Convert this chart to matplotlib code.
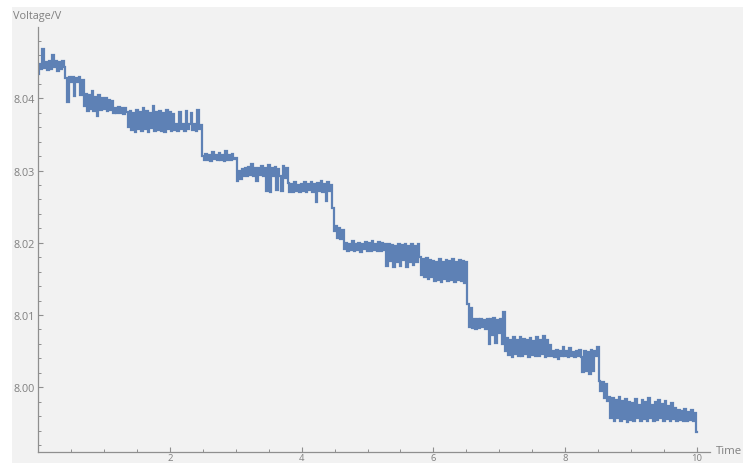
import numpy as np
import matplotlib
matplotlib.use("Agg")
import matplotlib.pyplot as plt
from matplotlib.patches import Rectangle
from matplotlib.ticker import MultipleLocator, FixedLocator, FormatStrFormatter

# Voltage readings, in millivolts above 8.000 V, sampled every 0.025 time units (t = 0 .. 10)
mv_t0 = [43.4, 44.8, 44.0, 46.8, 44.2, 45.0, 43.9, 45.2, 44.1, 46.0,
         44.3, 45.1, 43.8, 45.0, 44.0, 45.2, 44.3, 42.8, 39.5, 42.9,
         42.3, 42.9, 40.3, 42.8, 42.2, 42.9, 40.5, 42.5, 39.0, 40.6,
         38.3, 40.4, 38.5, 41.0, 38.2, 40.2, 37.6, 40.5, 38.4, 40.0]
mv_t1 = [38.5, 40.1, 38.3, 39.8, 38.4, 39.6, 38.0, 38.7, 37.9, 38.8,
         38.0, 38.6, 37.8, 38.7, 38.1, 36.0, 38.3, 35.6, 38.0, 35.4,
         38.4, 35.8, 38.1, 35.5, 38.6, 35.7, 38.2, 35.4, 38.0, 35.9,
         38.9, 35.5, 38.1, 35.6, 38.3, 35.5, 38.0, 35.4, 38.4, 35.7]
mv_t2 = [38.1, 35.5, 37.8, 35.6, 36.5, 35.5, 38.1, 35.7, 36.4, 35.5,
         38.2, 35.8, 36.5, 37.9, 35.6, 36.4, 35.5, 38.4, 35.8, 36.3,
         32.0, 31.4, 32.3, 31.5, 32.2, 31.3, 32.6, 31.6, 32.2, 31.4,
         32.4, 31.5, 32.1, 31.3, 32.7, 31.5, 32.2, 31.4, 32.3, 31.6]
mv_t3 = [31.8, 28.6, 30.0, 28.8, 30.2, 29.3, 30.4, 29.3, 30.5, 29.4,
         30.9, 29.3, 30.3, 28.6, 30.4, 29.4, 30.6, 29.2, 30.3, 27.2,
         30.8, 27.1, 30.4, 29.2, 30.5, 27.3, 30.2, 29.3, 27.2, 30.6,
         29.0, 30.3, 28.3, 27.1, 28.2, 27.0, 28.4, 27.2, 28.0, 27.1]
mv_t4 = [28.2, 27.2, 28.4, 27.1, 28.1, 27.3, 28.4, 27.0, 28.2, 25.6,
         28.3, 27.2, 28.5, 27.0, 28.2, 25.8, 28.4, 27.2, 28.0, 24.8,
         21.6, 22.3, 20.6, 22.0, 20.5, 21.8, 19.2, 20.0, 18.9, 19.9,
         19.0, 20.2, 18.8, 19.8, 19.0, 20.0, 18.7, 19.9, 19.1, 20.1]
mv_t5 = [18.9, 20.0, 18.8, 20.3, 19.0, 19.9, 18.9, 20.1, 18.8, 20.0,
         19.0, 19.9, 16.8, 19.8, 17.5, 19.7, 16.7, 19.6, 17.4, 19.9,
         16.8, 19.7, 17.6, 19.8, 16.7, 19.5, 17.3, 19.8, 16.9, 19.6,
         17.4, 19.9, 18.0, 15.5, 17.8, 15.2, 17.9, 15.0, 17.6, 15.3]
mv_t6 = [17.5, 14.7, 17.4, 14.9, 17.8, 14.6, 17.3, 15.0, 17.6, 14.7,
         17.5, 14.8, 17.7, 14.6, 17.4, 14.9, 17.6, 14.7, 17.5, 14.5,
         17.3, 11.5, 8.3, 11.0, 8.2, 9.5, 8.1, 9.4, 8.2, 9.5,
         8.3, 9.3, 8.1, 9.5, 6.0, 9.4, 7.2, 9.6, 6.1, 9.3]
mv_t7 = [7.5, 9.4, 6.0, 10.4, 5.0, 6.8, 4.5, 6.6, 4.2, 6.9,
         4.6, 6.5, 4.4, 7.0, 4.3, 6.7, 4.6, 6.6, 4.2, 6.8,
         4.5, 6.4, 4.4, 6.9, 4.3, 6.5, 4.6, 7.1, 4.2, 6.6,
         4.4, 5.9, 4.3, 5.0, 4.2, 5.1, 3.9, 5.0, 4.3, 5.6]
mv_t8 = [4.3, 5.0, 4.2, 5.5, 4.3, 4.9, 4.2, 5.0, 4.4, 5.1,
         4.2, 2.1, 5.0, 2.3, 4.9, 1.9, 5.2, 2.2, 5.0, 4.3,
         5.6, 0.9, -0.5, 0.8, -1.5, 0.5, -1.9, -1.4, -4.2, -1.5,
         -4.6, -1.7, -4.3, -1.3, -4.7, -1.9, -4.4, -1.6, -4.8, -2.0]
mv_t9 = [-4.5, -2.2, -4.6, -1.6, -4.3, -2.4, -4.7, -1.8, -4.4, -2.1,
         -4.6, -1.5, -4.2, -2.5, -4.7, -2.0, -4.5, -1.7, -4.3, -2.3,
         -4.6, -1.9, -4.4, -2.6, -4.7, -2.2, -4.4, -2.8, -4.6, -3.2,
         -4.5, -3.3, -4.6, -3.0, -4.7, -3.4, -4.5, -3.2, -4.6, -3.5,
         -6.2]

base_voltage = 8.0
x_ticks = [2, 4, 6, 8, 10]
y_ticks = [8.00, 8.01, 8.02, 8.03, 8.04]
y_label = "Voltage/V"
x_label = "Time"

mv_all = (mv_t0 + mv_t1 + mv_t2 + mv_t3 + mv_t4 +
          mv_t5 + mv_t6 + mv_t7 + mv_t8 + mv_t9)
voltage = base_voltage + np.array(mv_all) / 1000.0
time = np.linspace(0, 10, len(voltage))

W, H = 743, 464
fig = plt.figure(figsize=(W / 100, H / 100), dpi=100, facecolor="white")
bg = Rectangle((12 / W, 0), 1 - 12 / W, (H - 8) / H,
               transform=fig.transFigure, facecolor="#f2f2f2",
               edgecolor="none", zorder=-10)
fig.add_artist(bg)

x0, x1 = 38.3, 710.0
y_top, y_bot = 28.0, 453.0
ax = fig.add_axes([x0 / W, (H - y_bot) / H, (x1 - x0) / W, (y_bot - y_top) / H])
ax.set_facecolor("none")
ax.set_zorder(5)

px_per_unit = 65.85
px_per_volt = 7225.0
xmax = (x1 - x0) / px_per_unit
ymin = 8.00 - (y_bot - 388.3) / px_per_volt
ymax = 8.00 + (388.3 - y_top) / px_per_volt

ax.plot(time, voltage, color="#5E81B5", lw=1.6, drawstyle="steps-mid",
        solid_joinstyle="miter")
ax.set_xlim(0, xmax)
ax.set_ylim(ymin, ymax)

for s in ["top", "right"]:
    ax.spines[s].set_visible(False)
for s in ["left", "bottom"]:
    ax.spines[s].set_color("#8f8f8f")
    ax.spines[s].set_linewidth(0.9)

ax.xaxis.set_major_locator(FixedLocator(x_ticks))
ax.xaxis.set_minor_locator(MultipleLocator(0.5))
ax.yaxis.set_major_locator(FixedLocator(y_ticks))
ax.yaxis.set_minor_locator(MultipleLocator(0.002))
ax.yaxis.set_major_formatter(FormatStrFormatter("%.2f"))

font = ["Open Sans", "DejaVu Sans"]
ax.tick_params(which="major", direction="in", length=3.8, width=0.8,
               color="#8f8f8f", labelcolor="#808080", labelsize=7.8, pad=2.5)
ax.tick_params(axis="x", which="major", pad=0.8, labelsize=6.8)
ax.tick_params(which="minor", direction="in", length=2.2, width=0.7,
               color="#8f8f8f")
for lab in ax.get_xticklabels() + ax.get_yticklabels():
    lab.set_family(font)

fig.text(13 / W, 1 - 16.5 / H, y_label, ha="left", va="center",
         fontsize=7.8, color="#808080", family=font, zorder=6)
fig.text(716 / W, 1 - 452 / H, x_label, ha="left", va="center",
         fontsize=8.2, color="#808080", family=font, zorder=6)

fig.savefig("out.png", dpi=100, facecolor=fig.get_facecolor())
